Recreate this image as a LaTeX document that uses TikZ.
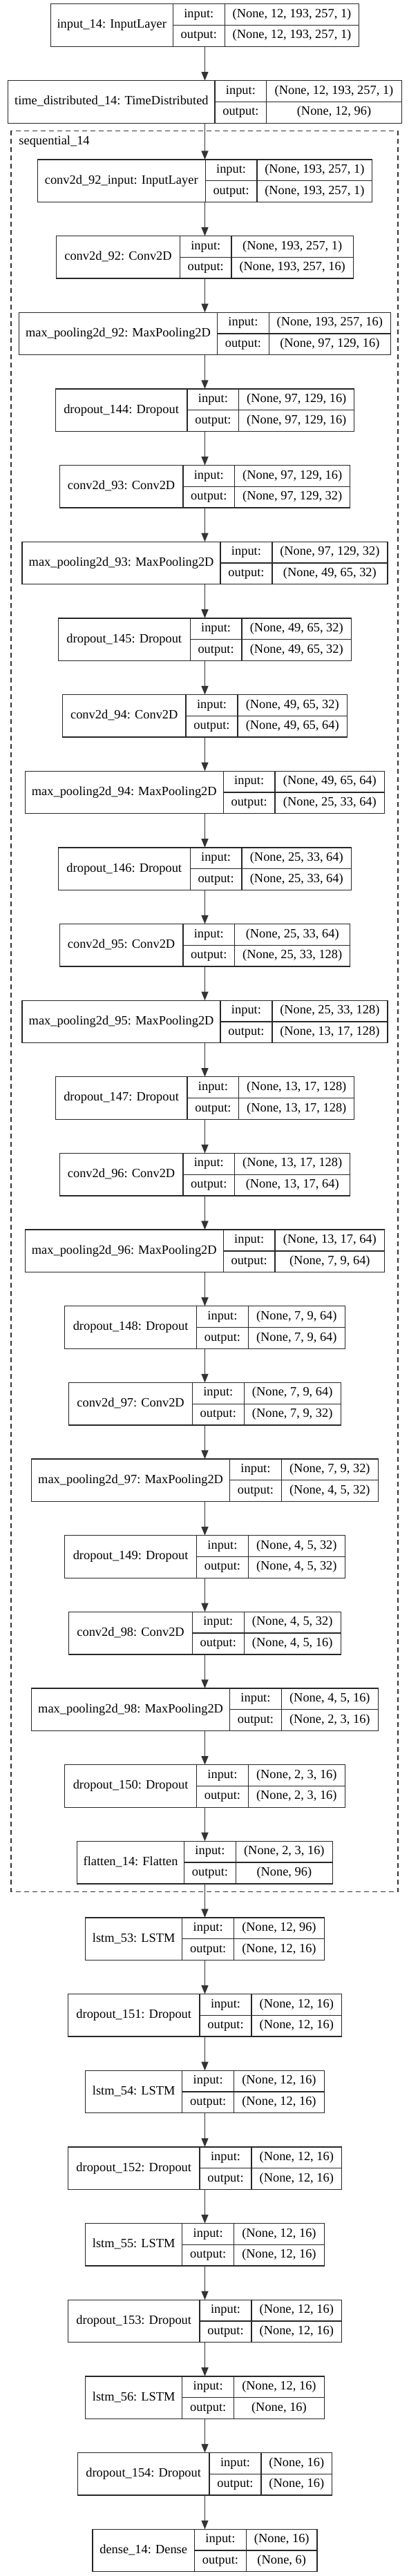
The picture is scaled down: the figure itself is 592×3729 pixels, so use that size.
\documentclass[tikz,border=0pt]{standalone}
\usepackage{fontspec}
\setmainfont{Liberation Serif}
\usetikzlibrary{arrows.meta}
\tikzset{
  box/.style={draw=black!85, line width=1pt, minimum height={61.5*0.75pt}, inner sep=0pt, outer sep=0pt},
  cell/.style={draw=black!85, line width=1pt},
  lbl/.style={font=\fontsize{13.8pt}{16pt}\selectfont, inner sep=0pt, anchor=base},
  arr/.style={draw=black!80, line width=1pt, -{Triangle[length=9.5pt,width=7.5pt]}},
  group/.style={draw=black!80, line width=1pt, dash pattern=on 5.25pt off 3.75pt},
}
% #1 name, #2 top y (px), #3 title width, #4 shape width, #5 title, #6 input shape, #7 output shape
\newcommand{\kLayer}[7]{%
  \pgfmathsetmacro{\LTw}{#3}%
  \pgfmathsetmacro{\LSw}{#4}%
  \pgfmathsetmacro{\LTot}{\LTw+74.8+\LSw}%
  \pgfmathsetmacro{\LXl}{296.5-\LTot/2}%
  \pgfmathsetmacro{\LXa}{\LXl+\LTw}%
  \pgfmathsetmacro{\LXb}{\LXa+74.8}%
  \pgfmathsetmacro{\LXr}{\LXl+\LTot}%
  \pgfmathsetmacro{\LYt}{#2}%
  \pgfmathsetmacro{\LYm}{#2+30.75}%
  \pgfmathsetmacro{\LYb}{#2+61.5}%
  \node[box, minimum width={\LTot*0.75pt}] (#1) at (296.5,\LYm) {};
  \draw[cell] (\LXa,\LYt) -- (\LXa,\LYb) (\LXb,\LYt) -- (\LXb,\LYb) (\LXa,\LYm) -- (\LXr,\LYm);
  \node[lbl] (#1-t) at ({(\LXl+\LXa)/2},{\LYm+4.4}) {#5};
  \node[lbl] (#1-i) at ({(\LXa+\LXb)/2},{\LYt+19.5}) {input:};
  \node[lbl] (#1-o) at ({(\LXa+\LXb)/2},{\LYm+19.5}) {output:};
  \node[lbl] (#1-a) at ({(\LXb+\LXr)/2},{\LYt+19.5}) {#6};
  \node[lbl] (#1-b) at ({(\LXb+\LXr)/2},{\LYm+19.5}) {#7};
}
\begin{document}
\begin{tikzpicture}[x=0.75pt, y=-0.75pt]
\useasboundingbox (0,0) rectangle (592,3729);
\def\P{110.65}
\kLayer{in14}{5.7}{177.2}{194.6}{input\_14: InputLayer}{(None, 12, 193, 257, 1)}{(None, 12, 193, 257, 1)}
\kLayer{td14}{116.7}{299.2}{195.4}{time\_distributed\_14: TimeDistributed}{(None, 12, 193, 257, 1)}{(None, 12, 96)}
% sequential group
\draw[group] (15.9,189.3) rectangle (576.1,2738.3);
\node[lbl, anchor=base west] (seqlbl) at (27.2,209) {sequential\_14};
\kLayer{c92in}{231+\P*0}{242.9}{166.7}{conv2d\_92\_input: InputLayer}{(None, 193, 257, 1)}{(None, 193, 257, 1)}
\kLayer{c92}{231+\P*1}{178.6}{176.1}{conv2d\_92: Conv2D}{(None, 193, 257, 1)}{(None, 193, 257, 16)}
\kLayer{mp92}{231+\P*2}{286.9}{176.1}{max\_pooling2d\_92: MaxPooling2D}{(None, 193, 257, 16)}{(None, 97, 129, 16)}
\kLayer{d144}{231+\P*3}{190.8}{167}{dropout\_144: Dropout}{(None, 97, 129, 16)}{(None, 97, 129, 16)}
\kLayer{c93}{231+\P*4}{178.6}{167}{conv2d\_93: Conv2D}{(None, 97, 129, 16)}{(None, 97, 129, 32)}
\kLayer{mp93}{231+\P*5}{286.9}{167}{max\_pooling2d\_93: MaxPooling2D}{(None, 97, 129, 32)}{(None, 49, 65, 32)}
\kLayer{d145}{231+\P*6}{190.8}{158.6}{dropout\_145: Dropout}{(None, 49, 65, 32)}{(None, 49, 65, 32)}
\kLayer{c94}{231+\P*7}{178.6}{158.6}{conv2d\_94: Conv2D}{(None, 49, 65, 32)}{(None, 49, 65, 64)}
\kLayer{mp94}{231+\P*8}{286.9}{158.6}{max\_pooling2d\_94: MaxPooling2D}{(None, 49, 65, 64)}{(None, 25, 33, 64)}
\kLayer{d146}{231+\P*9}{190.8}{158.6}{dropout\_146: Dropout}{(None, 25, 33, 64)}{(None, 25, 33, 64)}
\kLayer{c95}{231+\P*10}{178.6}{167}{conv2d\_95: Conv2D}{(None, 25, 33, 64)}{(None, 25, 33, 128)}
\kLayer{mp95}{231+\P*11}{286.9}{167}{max\_pooling2d\_95: MaxPooling2D}{(None, 25, 33, 128)}{(None, 13, 17, 128)}
\kLayer{d147}{231+\P*12}{190.8}{167}{dropout\_147: Dropout}{(None, 13, 17, 128)}{(None, 13, 17, 128)}
\kLayer{c96}{231+\P*13}{178.6}{167}{conv2d\_96: Conv2D}{(None, 13, 17, 128)}{(None, 13, 17, 64)}
\kLayer{mp96}{231+\P*14}{286.9}{158.6}{max\_pooling2d\_96: MaxPooling2D}{(None, 13, 17, 64)}{(None, 7, 9, 64)}
\kLayer{d148}{231+\P*15}{190.8}{140}{dropout\_148: Dropout}{(None, 7, 9, 64)}{(None, 7, 9, 64)}
\kLayer{c97}{231+\P*16}{178.6}{140}{conv2d\_97: Conv2D}{(None, 7, 9, 64)}{(None, 7, 9, 32)}
\kLayer{mp97}{231+\P*17}{286.9}{140}{max\_pooling2d\_97: MaxPooling2D}{(None, 7, 9, 32)}{(None, 4, 5, 32)}
\kLayer{d149}{231+\P*18}{190.8}{140}{dropout\_149: Dropout}{(None, 4, 5, 32)}{(None, 4, 5, 32)}
\kLayer{c98}{231+\P*19}{178.6}{140}{conv2d\_98: Conv2D}{(None, 4, 5, 32)}{(None, 4, 5, 16)}
\kLayer{mp98}{231+\P*20}{286.9}{140}{max\_pooling2d\_98: MaxPooling2D}{(None, 4, 5, 16)}{(None, 2, 3, 16)}
\kLayer{d150}{231+\P*21}{190.8}{140}{dropout\_150: Dropout}{(None, 2, 3, 16)}{(None, 2, 3, 16)}
\kLayer{fl14}{231+\P*22}{154.9}{140}{flatten\_14: Flatten}{(None, 2, 3, 16)}{(None, 96)}
% after group
\kLayer{l53}{231+\P*23}{140.1}{130.7}{lstm\_53: LSTM}{(None, 12, 96)}{(None, 12, 16)}
\kLayer{d151}{231+\P*24}{190.8}{130.7}{dropout\_151: Dropout}{(None, 12, 16)}{(None, 12, 16)}
\kLayer{l54}{231+\P*25}{140.1}{130.7}{lstm\_54: LSTM}{(None, 12, 16)}{(None, 12, 16)}
\kLayer{d152}{231+\P*26}{190.8}{130.7}{dropout\_152: Dropout}{(None, 12, 16)}{(None, 12, 16)}
\kLayer{l55}{231+\P*27}{140.1}{130.7}{lstm\_55: LSTM}{(None, 12, 16)}{(None, 12, 16)}
\kLayer{d153}{231+\P*28}{190.8}{130.7}{dropout\_153: Dropout}{(None, 12, 16)}{(None, 12, 16)}
\kLayer{l56}{231+\P*29}{140.1}{130.7}{lstm\_56: LSTM}{(None, 12, 16)}{(None, 16)}
\kLayer{d154}{231+\P*30}{190.8}{102.8}{dropout\_154: Dropout}{(None, 16)}{(None, 16)}
\kLayer{dn14}{231+\P*31}{147.7}{102.8}{dense\_14: Dense}{(None, 16)}{(None, 6)}
% connectors
\foreach \a/\b in {in14/td14, td14/c92in, c92in/c92, c92/mp92, mp92/d144, d144/c93, c93/mp93, mp93/d145,
  d145/c94, c94/mp94, mp94/d146, d146/c95, c95/mp95, mp95/d147, d147/c96, c96/mp96, mp96/d148,
  d148/c97, c97/mp97, mp97/d149, d149/c98, c98/mp98, mp98/d150, d150/fl14, fl14/l53,
  l53/d151, d151/l54, l54/d152, d152/l55, l55/d153, d153/l56, l56/d154, d154/dn14}
  \draw[arr] (\a.south) -- (\b.north);
\end{tikzpicture}
\end{document}
